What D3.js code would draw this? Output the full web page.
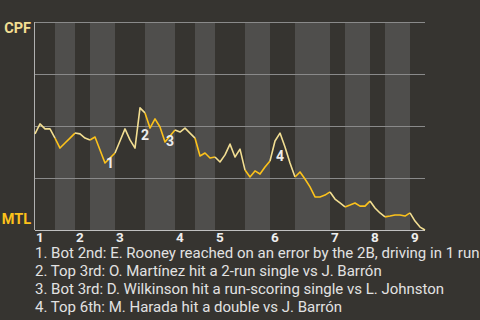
<!DOCTYPE html>
<html>
<head>
<meta charset="utf-8">
<script src="https://cdn.jsdelivr.net/npm/d3@7"></script>
<style>
  body { margin: 0; background: #363430; }
  svg { display: block; font-family: Roboto, "Noto Sans", sans-serif; }
</style>
</head>
<body>
<div id="chart"></div>
<script>
const w = 480;
const h = 320;

// teams: away on top, home on bottom
const teams = ['CPF', 'MTL'];
const innings = ['1', '2', '3', '4', '5', '6', '7', '8', '9'];
// play index where each half inning starts (top 1, bot 1, top 2 ...), last one ends at 78
const halfStarts = [0, 4, 8, 11, 16, 22, 28, 32, 36, 42, 47, 52, 59, 62, 67, 70, 75];
const lastPlay = 78;

// CPF win probability (%) after each play
const winProb = [
  46.2, 51.0, 48.6, 48.6, 44.2, 39.4, 41.8, 44.2, 46.6, 46.2,
  44.2, 43.3, 44.7, 38.5, 32.2, 34.6, 37.0, 42.8, 48.6, 43.3,
  39.4, 58.7, 56.3, 49.0, 53.4, 49.5, 42.3, 45.2, 48.1, 47.1,
  49.0, 46.6, 44.2, 35.6, 37.0, 34.6, 35.1, 32.7, 36.1, 41.3,
  35.1, 38.9, 28.8, 25.5, 28.4, 26.9, 30.3, 33.2, 42.8, 46.6,
  39.9, 32.2, 25.5, 27.9, 24.5, 20.7, 15.9, 15.9, 16.8, 18.3,
  14.9, 13.0, 11.1, 12.0, 13.0, 11.5, 11.5, 13.9, 10.6, 8.2,
  6.3, 6.7, 7.2, 7.2, 6.7, 8.2, 4.3, 1.4, 0.0
];

// numbered key plays
const notePlays = [14, 21, 26, 48];
const noteWP = [32.2, 45.7, 43.0, 35.6];
const notes = [
  '1. Bot 2nd: E. Rooney reached on an error by the 2B, driving in 1 run',
  '2. Top 3rd: O. Martínez hit a 2-run single vs J. Barrón',
  '3. Bot 3rd: D. Wilkinson hit a run-scoring single vs L. Johnston',
  '4. Top 6th: M. Harada hit a double vs J. Barrón'
];

const awayColor = '#f2de92';
const homeColor = '#fcc21b';

const plotLeft = 35, plotRight = 425, plotTop = 22, plotBottom = 230;

const svg = d3.select('#chart')
  .append('svg')
  .attr('width', w)
  .attr('height', h)
  .style('background-color', '#363430');

const x = d3.scaleLinear().domain([0, lastPlay]).range([plotLeft, plotRight]);
const y = d3.scaleLinear().domain([0, 100]).range([plotBottom, plotTop]);

const halves = halfStarts.map((s, i) => ({
  start: s,
  end: i < halfStarts.length - 1 ? halfStarts[i + 1] : lastPlay,
  bottom: i % 2 === 1
}));

// stripes for bottom halves
svg.selectAll('rect.half')
  .data(halves.filter(d => d.bottom))
  .enter()
  .append('rect')
  .attr('class', 'half')
  .attr('x', d => x(d.start))
  .attr('y', plotTop)
  .attr('width', d => x(d.end) - x(d.start))
  .attr('height', plotBottom - plotTop)
  .attr('fill', '#4f4e4c');

// gridlines
const grid = d3.axisLeft(y).tickValues([25, 50, 75, 100]).tickSize(-(plotRight - plotLeft)).tickFormat('');
svg.append('g')
  .attr('transform', `translate(${plotLeft},0)`)
  .call(grid)
  .call(g => g.select('.domain').remove())
  .call(g => g.selectAll('line').attr('stroke', '#8a8a8a').attr('stroke-width', 1));

// axes lines
svg.append('line')
  .attr('x1', plotLeft - 0.5).attr('x2', plotLeft - 0.5)
  .attr('y1', plotTop).attr('y2', plotBottom)
  .attr('stroke', '#b0b0b0');
svg.append('line')
  .attr('x1', plotLeft).attr('x2', plotRight)
  .attr('y1', plotBottom + 0.5).attr('y2', plotBottom + 0.5)
  .attr('stroke', '#c0c0c0');

// win probability line, coloured by team at bat
const line = d3.line()
  .x(d => x(d))
  .y(d => y(winProb[d]));

svg.selectAll('path.wp')
  .data(halves)
  .enter()
  .append('path')
  .attr('class', 'wp')
  .attr('d', d => line(d3.range(d.start, d.end + 1)))
  .attr('fill', 'none')
  .attr('stroke', d => d.bottom ? homeColor : awayColor)
  .attr('stroke-width', 1.6)
  .attr('stroke-linejoin', 'round');

// key play numbers
svg.selectAll('text.note')
  .data(notePlays)
  .enter()
  .append('text')
  .attr('class', 'note')
  .attr('x', d => x(d) + 1)
  .attr('y', (d, i) => y(noteWP[i]))
  .attr('dy', '0.36em')
  .attr('fill', '#ececec')
  .style('font-size', '14px')
  .style('font-weight', 'bold')
  .text((d, i) => i + 1);

// team labels
svg.append('text')
  .attr('x', 31).attr('y', 33)
  .attr('text-anchor', 'end')
  .attr('fill', awayColor)
  .style('font-size', '14.5px')
  .style('font-weight', 'bold')
  .text(teams[0]);
svg.append('text')
  .attr('x', 31).attr('y', 224)
  .attr('text-anchor', 'end')
  .attr('fill', homeColor)
  .style('font-size', '14.5px')
  .style('font-weight', 'bold')
  .text(teams[1]);

// inning labels
svg.selectAll('text.inning')
  .data(innings)
  .enter()
  .append('text')
  .attr('class', 'inning')
  .attr('x', (d, i) => x(halfStarts[i * 2]) + 1)
  .attr('y', 242)
  .attr('fill', '#eeeeee')
  .style('font-size', '13.5px')
  .style('font-weight', 'bold')
  .text(d => d);

// footnotes
svg.selectAll('text.foot')
  .data(notes)
  .enter()
  .append('text')
  .attr('class', 'foot')
  .attr('x', 35)
  .attr('y', (d, i) => 258 + i * 18)
  .attr('fill', '#e2e2e2')
  .style('font-size', '15px')
  .text(d => d);
</script>
</body>
</html>
